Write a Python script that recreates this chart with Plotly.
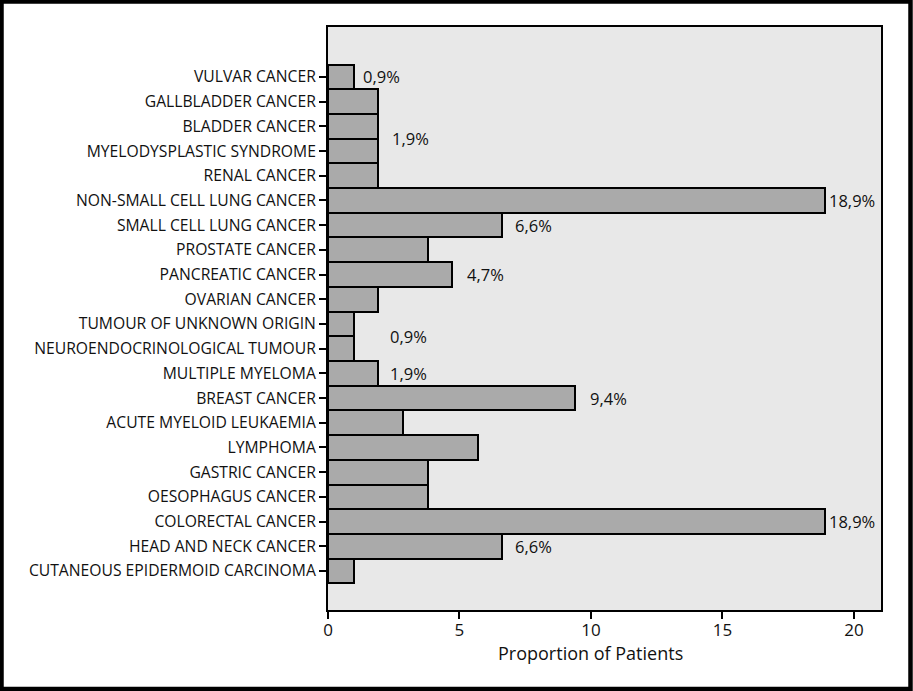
import plotly.graph_objects as go

categories = [
    "CUTANEOUS EPIDERMOID CARCINOMA", "HEAD AND NECK CANCER", "COLORECTAL CANCER",
    "OESOPHAGUS CANCER", "GASTRIC CANCER", "LYMPHOMA", "ACUTE MYELOID LEUKAEMIA",
    "BREAST CANCER", "MULTIPLE MYELOMA", "NEUROENDOCRINOLOGICAL TUMOUR",
    "TUMOUR OF UNKNOWN ORIGIN", "OVARIAN CANCER", "PANCREATIC CANCER",
    "PROSTATE CANCER", "SMALL CELL LUNG CANCER", "NON-SMALL CELL LUNG CANCER",
    "RENAL CANCER", "MYELODYSPLASTIC SYNDROME", "BLADDER CANCER",
    "GALLBLADDER CANCER", "VULVAR CANCER",
]
values = [1.0, 6.6, 18.9, 3.8, 3.8, 5.7, 2.85, 9.4, 1.9, 1.0,
          1.0, 1.9, 4.7, 3.8, 6.6, 18.9, 1.9, 1.9, 1.9, 1.9, 1.0]

# value labels: text, categories covered, horizontal pixel offset from bar end
label_texts = ["0,9%", "1,9%", "18,9%", "6,6%", "4,7%", "0,9%", "1,9%", "9,4%", "18,9%", "6,6%"]
label_groups = [
    ["VULVAR CANCER"],
    ["GALLBLADDER CANCER", "BLADDER CANCER", "MYELODYSPLASTIC SYNDROME", "RENAL CANCER"],
    ["NON-SMALL CELL LUNG CANCER"],
    ["SMALL CELL LUNG CANCER"],
    ["PANCREATIC CANCER"],
    ["TUMOUR OF UNKNOWN ORIGIN", "NEUROENDOCRINOLOGICAL TUMOUR"],
    ["MULTIPLE MYELOMA"],
    ["BREAST CANCER"],
    ["COLORECTAL CANCER"],
    ["HEAD AND NECK CANCER"],
]
label_xshift = [7, 12, 2, 11, 13, 34, 10, 13, 2, 11]

x_ticks = [0, 5, 10, 15, 20]
x_title = "Proportion of Patients"

FONT = "Open Sans"
TXT = "#111111"

idx = list(range(len(categories)))

fig = go.Figure()
fig.add_trace(go.Bar(
    y=idx, x=values, orientation="h",
    marker=dict(color="#aaaaaa", line=dict(color="black", width=2)),
    width=1.0, hoverinfo="skip",
))

annotations = []
for t, grp, xs in zip(label_texts, label_groups, label_xshift):
    ids = [categories.index(c) for c in grp]
    yv = sum(ids) / len(ids)
    xv = max(values[i] for i in ids)
    annotations.append(dict(
        x=xv, y=yv, xref="x", yref="y", text=t, showarrow=False,
        xanchor="left", yanchor="middle", xshift=xs,
        font=dict(family=FONT, size=16.5, color=TXT),
    ))
# axis title, centred on the 0..20 tick span
annotations.append(dict(
    x=(x_ticks[0] + x_ticks[-1]) / 2, y=0, xref="x", yref="paper", text=x_title,
    showarrow=False, xanchor="center", yanchor="middle", yshift=-43,
    font=dict(family=FONT, size=18, color=TXT),
))

fig.update_layout(
    width=913, height=691,
    margin=dict(l=328, r=32, t=27, b=81),
    paper_bgcolor="white", plot_bgcolor="#e8e8e8",
    showlegend=False,
    bargap=0,
    annotations=annotations,
    shapes=[
        dict(type="rect", xref="paper", yref="paper",
             x0=(1.5 - 328) / 553, x1=(910.5 - 328) / 553,
             y0=-(689 - 610) / 583, y1=1 + (27 - 1.5) / 583,
             line=dict(color="black", width=4.5), fillcolor="rgba(0,0,0,0)", layer="above"),
    ],
    xaxis=dict(
        range=[0, 21.03], tickvals=x_ticks, ticktext=[str(v) for v in x_ticks],
        ticks="outside", ticklen=7, tickwidth=2, tickcolor="black",
        showline=True, linecolor="black", linewidth=2, mirror=True,
        showgrid=False, zeroline=False, ticklabelstandoff=-3,
        tickfont=dict(family=FONT, size=17, color=TXT),
    ),
    yaxis=dict(
        range=[-1.58, 22.02], tickvals=idx, ticktext=categories,
        ticks="outside", ticklen=7, tickwidth=2, tickcolor="black",
        showline=True, linecolor="black", linewidth=2, mirror=True,
        showgrid=False, zeroline=False,
        tickfont=dict(family=FONT, size=15.7, color=TXT),
    ),
)

fig.write_html("out.html", config={"displayModeBar": False},
               post_script="document.body.style.margin='0';document.body.style.overflow='hidden';")
